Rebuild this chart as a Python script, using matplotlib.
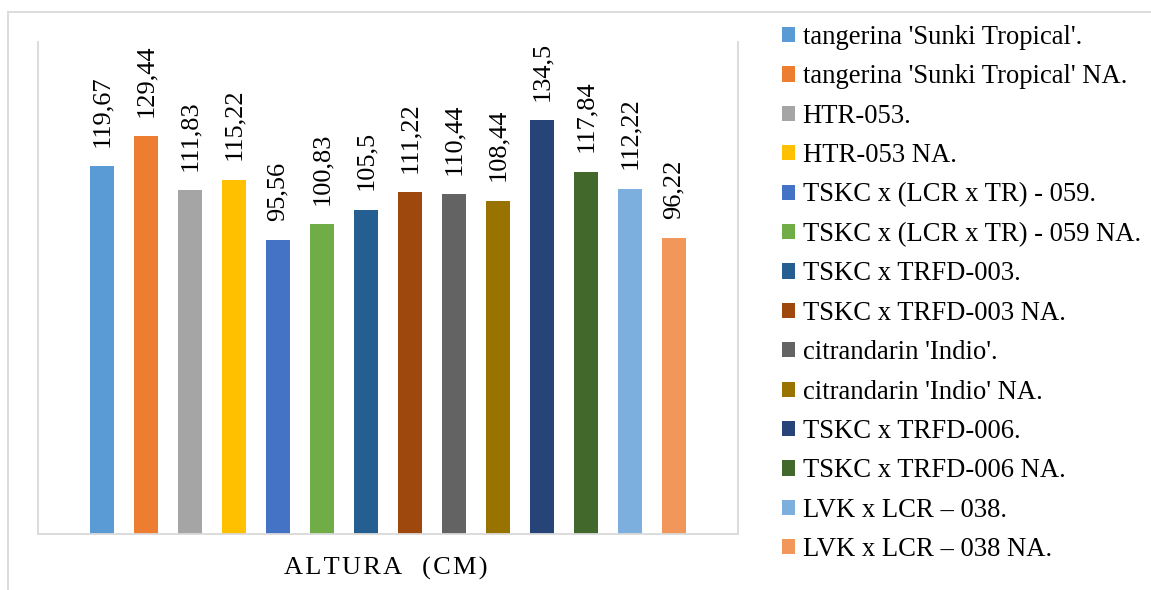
import numpy as np
import matplotlib
matplotlib.use("Agg")
import matplotlib.pyplot as plt
from matplotlib.patches import Patch
from matplotlib.lines import Line2D

plt.rcParams['font.family'] = ['Liberation Serif', 'DejaVu Serif']

# dados
tratamentos = ["tangerina 'Sunki Tropical'.", "tangerina 'Sunki Tropical' NA.",
               "HTR-053.", "HTR-053 NA.",
               "TSKC x (LCR x TR) - 059.", "TSKC x (LCR x TR) - 059 NA.",
               "TSKC x TRFD-003.", "TSKC x TRFD-003 NA.",
               "citrandarin 'Indio'.", "citrandarin 'Indio' NA.",
               "TSKC x TRFD-006.", "TSKC x TRFD-006 NA.",
               "LVK x LCR \u2013 038.", "LVK x LCR \u2013 038 NA."]
altura = [119.67, 129.44, 111.83, 115.22, 95.56, 100.83, 105.5,
          111.22, 110.44, 108.44, 134.5, 117.84, 112.22, 96.22]
rotulos = ["119,67", "129,44", "111,83", "115,22", "95,56", "100,83", "105,5",
           "111,22", "110,44", "108,44", "134,5", "117,84", "112,22", "96,22"]
cores = ['#5B9BD5', '#ED7D31', '#A5A5A5', '#FFC000', '#4472C4', '#70AD47', '#255E91',
         '#9E480E', '#636363', '#997300', '#264478', '#43682B', '#7CAFDD', '#F1975A']
titulo_eixo = "ALTURA  (CM)"

W, H = 1151, 590
fig = plt.figure(figsize=(W / 100, H / 100), dpi=100)
ax = fig.add_axes([38 / W, (H - 534) / H, 700 / W, (534 - 42) / H])

x = np.arange(len(altura))
ax.bar(x, altura, width=0.545, color=cores)
ax.set_xlim(-1.4545, len(altura) - 1 + 1.4545)
ax.set_ylim(0, 160)

# rotulos de valor
for xi, v, r in zip(x, altura, rotulos):
    ax.annotate(r, (xi, v), xytext=(0, 14), textcoords='offset points',
                rotation=90, ha='center', va='bottom', fontsize=19)

ax.set_xticks([])
ax.set_yticks([])
ax.spines['top'].set_visible(False)
for s in ['left', 'right', 'bottom']:
    ax.spines[s].set_color('#d9d9d9')
    ax.spines[s].set_linewidth(1.3)

# titulo do eixo com espacamento entre letras
fig.text(386 / W, 1 - 568 / H, '\u200a'.join(titulo_eixo), ha='center', va='center', fontsize=19)

# borda externa do grafico
fig.add_artist(Line2D([8 / W, 1], [1 - 12 / H, 1 - 12 / H], color='#d9d9d9', lw=1.3))
fig.add_artist(Line2D([8 / W, 8 / W], [0, 1 - 12 / H], color='#d9d9d9', lw=1.3))

handles = [Patch(facecolor=c) for c in cores]
fig.legend(handles, tratamentos, loc='upper left', bbox_to_anchor=(782 / W, 1 - 25 / H),
           frameon=False, fontsize=19.2, handlelength=0.5, handleheight=0.5,
           handletextpad=0.27, labelspacing=0.54, borderpad=0, borderaxespad=0)

fig.savefig('out.png', dpi=100)
